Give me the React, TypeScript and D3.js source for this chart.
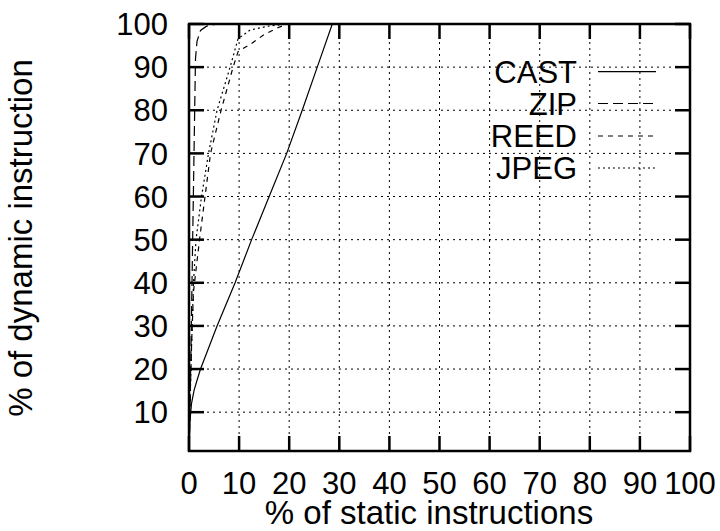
import React from "react";
import * as d3 from "d3";

const xTicks = [0, 10, 20, 30, 40, 50, 60, 70, 80, 90, 100];
const yTicks = [10, 20, 30, 40, 50, 60, 70, 80, 90, 100];

const castX = [0, 0.2, 0.5, 1, 1.5, 2.3, 5.6, 9.2, 12.5, 16, 19.5, 22.6, 25.6, 28.6];
const castY = [1, 8, 12, 15, 17, 20, 30, 40, 50, 60, 70, 80, 90, 100];

const zipX = [0, 0.2, 0.4, 0.6, 0.8, 1.0, 1.2, 1.3, 1.6, 2.3, 3.5, 5.5, 100];
const zipY = [1, 10, 25, 40, 55, 70, 85, 92, 96, 98.5, 99.5, 100, 100];

const reedX = [0, 0.2, 0.5, 0.9, 2.1, 3.2, 4.3, 6.4, 8.8, 9.8, 12.5, 14.8, 17.5, 19.5, 100];
const reedY = [1, 12, 25, 38, 50, 60, 70, 80, 90, 93.6, 95.5, 97.4, 99, 100, 100];

const jpegX = [0, 0.2, 0.5, 0.9, 1.4, 2.5, 3.9, 5.6, 8.2, 9.8, 12.2, 15.8, 19.6, 100];
const jpegY = [1, 12, 25, 40, 50, 60, 70, 80, 90, 96.6, 98.6, 99.5, 100, 100];

const seriesNames = ["CAST", "ZIP", "REED", "JPEG"];
const seriesX = [castX, zipX, reedX, jpegX];
const seriesY = [castY, zipY, reedY, jpegY];
const dashes = ["none", "10,5", "5,5", "2,3"];

const W = 720;
const H = 531;
const L = 189;
const R = 690;
const T = 24;
const B = 451;
const FONT = "'Liberation Sans', Arial, Helvetica, sans-serif";
const FS = 31;
const LFS = 33;

export default function App() {
  const x = d3.scaleLinear().domain([0, 100]).range([L, R]);
  const y = d3.scaleLinear().domain([1, 100]).range([B, T]);
  const line = d3
    .line<[number, number]>()
    .x((d) => x(d[0]))
    .y((d) => y(d[1]));

  const legendY = [71.7, 103.5, 136, 168];

  return (
    <svg
      width={W}
      height={H}
      style={{ position: "absolute", left: 0, top: 0, background: "#fff" }}
      fontFamily={FONT}
    >
      <defs>
        <clipPath id="plotclip">
          <rect x={L} y={T} width={R - L} height={B - T} />
        </clipPath>
      </defs>
      <rect x={0} y={0} width={W} height={H} fill="#fff" />
      {xTicks.map((t) => (
        <line
          key={"gx" + t}
          x1={x(t)}
          x2={x(t)}
          y1={T}
          y2={B}
          stroke="#000"
          strokeWidth={1}
          strokeDasharray="2,4"
        />
      ))}
      {yTicks.map((t) => (
        <line
          key={"gy" + t}
          x1={L}
          x2={R}
          y1={y(t)}
          y2={y(t)}
          stroke="#000"
          strokeWidth={1}
          strokeDasharray="2,4"
        />
      ))}
      {xTicks.map((t) => (
        <g key={"tx" + t}>
          <line x1={x(t)} x2={x(t)} y1={B} y2={B - 15} stroke="#000" strokeWidth={2.5} />
          <line x1={x(t)} x2={x(t)} y1={T} y2={T + 15} stroke="#000" strokeWidth={2.5} />
          <text x={x(t)} y={494} textAnchor="middle" fontSize={FS} fill="#000">
            {t}
          </text>
        </g>
      ))}
      {yTicks.map((t) => (
        <g key={"ty" + t}>
          <line x1={L} x2={L + 15} y1={y(t)} y2={y(t)} stroke="#000" strokeWidth={2.5} />
          <line x1={R} x2={R - 15} y1={y(t)} y2={y(t)} stroke="#000" strokeWidth={2.5} />
          <text x={168} y={y(t)} dy="0.36em" textAnchor="end" fontSize={FS} fill="#000">
            {t}
          </text>
        </g>
      ))}
      <g clipPath="url(#plotclip)">
        {seriesNames.map((name, i) => {
          const pts = seriesX[i].map((v, j) => [v, seriesY[i][j]] as [number, number]);
          return (
            <path
              key={name}
              d={line(pts) || ""}
              fill="none"
              stroke="#000"
              strokeWidth={1.2}
              strokeDasharray={dashes[i]}
            />
          );
        })}
      </g>
      {seriesNames.map((name, i) => (
        <g key={"lg" + name}>
          <text x={577} y={legendY[i]} dy="0.36em" textAnchor="end" fontSize={FS} fill="#000">
            {name}
          </text>
          <line
            x1={598}
            x2={656}
            y1={legendY[i]}
            y2={legendY[i]}
            stroke="#000"
            strokeWidth={1.2}
            strokeDasharray={dashes[i]}
          />
        </g>
      ))}
      <rect x={L} y={T} width={R - L} height={B - T} fill="none" stroke="#000" strokeWidth={2.5} />
      <text x={429} y={524} textAnchor="middle" fontSize={LFS} fill="#000">
        % of static instructions
      </text>
      <text
        transform={`translate(${39},${238}) rotate(-90)`}
        textAnchor="middle"
        fontSize={LFS}
        fill="#000"
        dy="-0.2em"
      >
        % of dynamic instruction
      </text>
    </svg>
  );
}
